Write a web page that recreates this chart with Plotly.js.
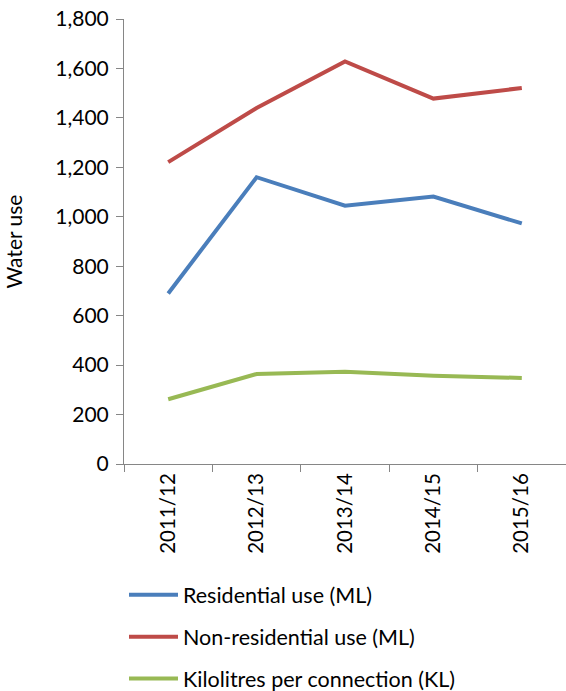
<!DOCTYPE html>
<html>
<head>
<meta charset="utf-8">
<script src="https://cdn.plot.ly/plotly-3.0.1.min.js"></script>
<style>
  html, body { margin: 0; padding: 0; background: #ffffff; }
  #chart { width: 566px; height: 691px; }
</style>
</head>
<body>
<div id="chart"></div>
<script>
// Financial years on the category axis
const years = ["2011/12", "2012/13", "2013/14", "2014/15", "2015/16"];

// Water use series
const residentialML = [690, 1160, 1045, 1082, 973];
const nonResidentialML = [1221, 1440, 1628, 1478, 1521];
const klPerConnection = [262, 364, 373, 357, 348];

// Y axis ticks
const yTickVals = [0, 200, 400, 600, 800, 1000, 1200, 1400, 1600, 1800];
const yTickText = ["0", "200", "400", "600", "800", "1,000", "1,200", "1,400", "1,600", "1,800"];

const FONT = "Lato, 'Open Sans', sans-serif";
const AXIS_GREY = "#868686";

function series(name, values, color, group) {
  return {
    type: "scatter",
    mode: "lines",
    name: name,
    x: years,
    y: values,
    legendgroup: group,
    line: { color: color, width: 4 },
    hoverinfo: "x+y+name"
  };
}

const data = [
  series("Residential use (ML)", residentialML, "#4A7EBB", "a"),
  series("Non-residential use (ML)", nonResidentialML, "#BE4B48", "b"),
  series("Kilolitres per connection (KL)", klPerConnection, "#98B954", "c")
];

const layout = {
  width: 566,
  height: 691,
  margin: { l: 124, r: 0, t: 19, b: 227 },
  paper_bgcolor: "#ffffff",
  plot_bgcolor: "#ffffff",
  font: { family: FONT, size: 20, color: "#000000" },
  showlegend: true,
  legend: {
    orientation: "v",
    xref: "paper",
    yref: "container",
    x: 0,
    xanchor: "left",
    y: 0.169,
    yanchor: "top",
    traceorder: "grouped",
    tracegroupgap: 11,
    itemwidth: 49,
    font: { family: FONT, size: 21.5, color: "#000000" },
    bgcolor: "rgba(0,0,0,0)"
  },
  xaxis: {
    type: "category",
    range: [-0.5, 4.5],
    showline: true,
    linecolor: AXIS_GREY,
    linewidth: 1,
    showgrid: false,
    zeroline: false,
    ticks: "outside",
    tickson: "boundaries",
    ticklen: 7,
    tickcolor: AXIS_GREY,
    tickangle: -90,
    tickfont: { family: FONT, size: 20.5, color: "#000000" },
    automargin: false,
    fixedrange: true
  },
  yaxis: {
    range: [0, 1800],
    tickmode: "array",
    tickvals: yTickVals,
    ticktext: yTickText,
    showline: true,
    linecolor: AXIS_GREY,
    linewidth: 1,
    showgrid: false,
    zeroline: false,
    ticks: "outside",
    ticklen: 7,
    ticklabelstandoff: 3,
    tickcolor: AXIS_GREY,
    tickfont: { family: FONT, size: 21, color: "#000000" },
    title: { text: "Water use", font: { family: FONT, size: 21, color: "#000000" }, standoff: 26 },
    automargin: false,
    fixedrange: true
  }
};

Plotly.newPlot("chart", data, layout, { displayModeBar: false, staticPlot: true }).then(function (gd) {
  // Lengthen the legend line samples to the item width
  gd.querySelectorAll(".legend .legendlines path").forEach(function (p) {
    p.setAttribute("d", "M5,0h49");
  });
});
</script>
</body>
</html>
